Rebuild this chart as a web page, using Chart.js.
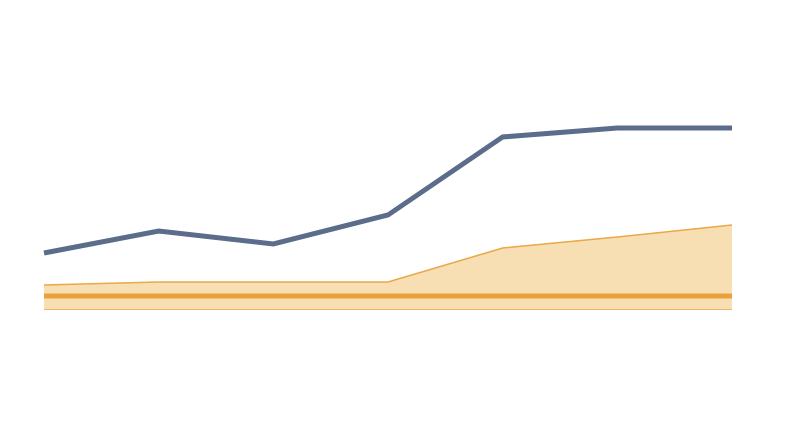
<!DOCTYPE html>
<html>
<head>
<meta charset="utf-8">
<script src="https://cdn.jsdelivr.net/npm/chart.js@4"></script>
<style>
html,body{margin:0;padding:0;background:#fff;}
#wrap{width:800px;height:447px;}
</style>
</head>
<body>
<div id="wrap"><canvas id="c"></canvas></div>
<script>
const categories = ["1","2","3","4","5","6","7"];
const mainSeries = [57, 79, 66, 95, 173, 182, 182];
const bandUpper = [25, 28, 28, 28, 62, 73, 85];
const bandLower = [0, 0, 0, 0, 0, 0, 0];
const referenceLine = [14, 14, 14, 14, 14, 14, 14];

new Chart(document.getElementById('c'), {
  type: 'line',
  data: {
    labels: categories,
    datasets: [
      {
        data: mainSeries,
        borderColor: '#5b6d8b',
        borderWidth: 5,
        pointRadius: 0,
        fill: false,
        tension: 0,
        order: 0
      },
      {
        data: referenceLine,
        borderColor: '#e9a23b',
        borderWidth: 5,
        pointRadius: 0,
        fill: false,
        order: 1
      },
      {
        data: bandLower,
        borderColor: '#e9a849',
        borderWidth: 1.5,
        pointRadius: 0,
        fill: false,
        order: 2
      },
      {
        data: bandUpper,
        borderColor: '#e9a849',
        backgroundColor: 'rgba(245, 210, 150, 0.72)',
        borderWidth: 1.5,
        pointRadius: 0,
        fill: '-1',
        order: 3
      }
    ]
  },
  options: {
    responsive: true,
    maintainAspectRatio: false,
    animation: false,
    layout: { padding: { left: 44, right: 68, top: 110, bottom: 137 } },
    plugins: { legend: { display: false }, tooltip: { enabled: false } },
    scales: {
      x: { display: false, offset: false },
      y: { display: false, min: 0, max: 200 }
    }
  }
});
</script>
</body>
</html>
